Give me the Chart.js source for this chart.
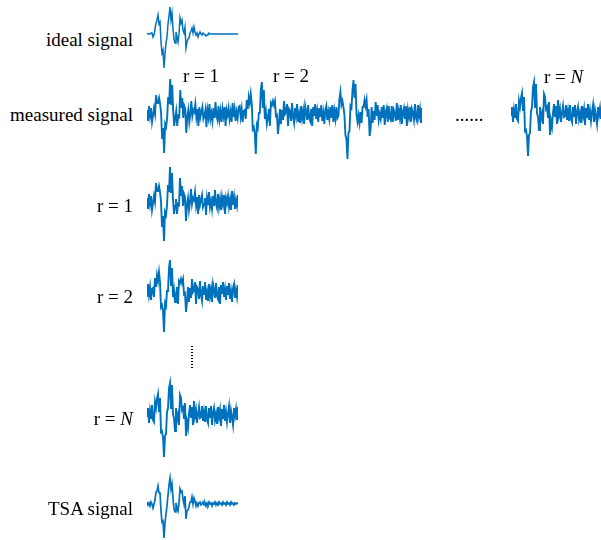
<!DOCTYPE html>
<html>
<head>
<meta charset="utf-8">
<script src="https://cdn.jsdelivr.net/npm/chart.js@4"></script>
<style>
  body { margin: 0; background: #fff; }
  #fig { position: relative; width: 601px; height: 540px; overflow: hidden; background: #fff; }
  #fig canvas { position: absolute; }
  .lbl {
    position: absolute;
    font-family: "Liberation Serif", "Times New Roman", serif;
    font-size: 19px;
    line-height: 19px;
    color: #000;
    white-space: nowrap;
  }
  .right { right: 468px; text-align: right; }
  .vdots {
    position: absolute; left: 191px; top: 346px; width: 2px; height: 23px;
    background: repeating-linear-gradient(to bottom, #000 0, #000 1.5px, transparent 1.5px, transparent 3px);
  }
</style>
</head>
<body>
<div id="fig">
  <canvas id="cIdeal" width="91" height="110" style="left:147px; top:-21px"></canvas>
  <canvas id="cMeasured" width="275" height="110" style="left:147px; top:59px"></canvas>
  <canvas id="cMeasuredN" width="91" height="110" style="left:511px; top:59px"></canvas>
  <canvas id="cR1" width="91" height="110" style="left:147px; top:147px"></canvas>
  <canvas id="cR2" width="91" height="110" style="left:147px; top:237px"></canvas>
  <canvas id="cRN" width="91" height="110" style="left:147px; top:360px"></canvas>
  <canvas id="cTSA" width="91" height="110" style="left:147px; top:449px"></canvas>

  <div class="lbl right" style="top:30px">ideal signal</div>
  <div class="lbl right" style="top:105px">measured signal</div>
  <div class="lbl right" style="top:196px">r = 1</div>
  <div class="lbl right" style="top:287px">r = 2</div>
  <div class="lbl right" style="top:409px">r = <i>N</i></div>
  <div class="lbl right" style="top:499px">TSA signal</div>

  <div class="lbl" style="left:183px; top:66px">r = 1</div>
  <div class="lbl" style="left:273px; top:66px">r = 2</div>
  <div class="lbl" style="left:544px; top:67px">r = <i>N</i></div>
  <div class="lbl" style="left:455px; top:105px">......</div>
  <div class="vdots"></div>
</div>
<script>
// amplitudes, one sample per pixel
const idealSignal = [
  1, 0, 0, 0, 1, 1, -3, -1, 5, 11,
  14, 19, 10, 12, -8, -19, -16, -34, -20, -9,
  -3, 10, 18, 27, 14, 21, 5, -5, -9, 2,
  -3, -8, 0, 16, 11, 14, 4, 1, 7, -14,
  -8, -5, -4, 1, 3, 6, 1, 7, 2, -1,
  1, -3, 0, 2, 0, -1, 1, 0, -1, -2,
  -1, 0, 1, 0, 0, 0, 0, 0, 0, 0,
  0, 0, 0, 0, 0, 0, 0, 0, 0, 0,
  0, 0, 0, 0, 0, 0, 0, 0, 0, 0,
  0, 0
];

const measuredR1 = [
  4, -7, 8, -2, 6, -8, -1, 6, 0, 19,
  11, 11, 16, 10, 1, -25, -14, -39, -10, -13,
  -4, 17, 10, 35, 9, 29, 3, -12, -4, 3,
  -12, -2, -3, 24, 6, 16, -4, 8, 5, -19,
  -3, 4, -8, 0, 13, -2, 4, 2, 10, -3,
  5, -12, 7, -3, 2, 7, -5, -2, 4, -13,
  4, -3, 10, -5, 1, -7, 6, -4, 12, -2,
  -6, 8, -5, 3, -8, 5, -2, 7, -12, 4,
  -1, 6, -5, 2, -8, 11, -3, 5, -7, 2,
  -4, 7
];

const measuredR2 = [
  -5, 8, -3, 5, -8, 3, 4, -5, 14, 5,
  17, 11, 20, 10, -15, -13, -19, -40, -11, -14,
  1, 1, 24, 32, 6, 24, -5, 2, -10, -4,
  5, -12, 11, 9, 13, 9, 13, -2, -1, -20,
  -10, 5, -10, 4, -6, 13, 0, 2, 10, -12,
  5, 3, -7, 11, -3, -9, 6, -2, 10, -8,
  0, -9, 8, -4, 3, -10, 8, 2, -6, 9,
  -4, -7, 5, -12, 7, -2, 10, -5, 3, -8,
  6, -3, 9, -7, 1, -10, 4, 8, -6, 2,
  -5, 7
];

const measuredR3 = [
  6, -4, 9, -8, 3, -5, 7, -4, -2, 15,
  22, 9, 13, 7, -1, -21, -25, -45, -19, -17,
  8, 6, 24, 34, 16, 30, -1, -8, -1, -9,
  2, -9, 7, 7, 14, 8, 14, -3, 5, -22,
  -15, 7, -9, 3, -6, 12, -2, 9, -6, 0,
  -5, 7, -4, 9, -11, 2, 6, -8, 8, -4,
  -6, 8, -8, 4, 1, -7, 11, -6, 3, -4,
  9, -10, 2, 6, -5, 8, -12, 4, -3, 7,
  -8, 5, 1, -6, 10, -4, -7, 9, -2, 5,
  -9, 6
];

const measuredRN = [
  -2, 7, -8, 4, -4, 10, -5, -7, 13, 7,
  16, 21, 3, 17, -17, -16, -22, -42, -21, -19,
  3, 7, 27, 32, 6, 30, 1, -3, -16, 7,
  -5, 0, -10, 20, 17, 5, 7, -4, 12, -21,
  -7, -13, 1, 10, -3, 8, -10, 14, -1, 5,
  -8, 1, 8, -3, -2, 9, -6, 3, -7, 9,
  -5, -8, 7, -3, 9, -10, 2, 7, -5, 1,
  -9, 8, -2, 5, -11, 6, -4, 10, -6, 3,
  -7, 2, 9, -8, 4, -3, -10, 7, -1, 6,
  -5, 8
];

const tsaSignal = [
  2, -1, 1, -2, 2, 0, -4, 0, 4, 12,
  13, 18, 11, 11, -7, -18, -17, -34, -19, -10,
  -2, 9, 19, 26, 15, 20, 6, -5, -8, 1,
  -4, -7, 1, 15, 12, 13, 5, 0, 8, -15,
  -7, -6, -3, 2, 2, 7, 0, 6, 3, -2,
  1, -2, 1, 2, -1, 0, 2, -1, 1, -2,
  1, -1, 2, 0, 1, -2, 1, 0, 2, -1,
  1, -1, 2, 0, 1, -1, 2, 0, 1, -1,
  2, 0, 1, -1, 2, 0, 1, -1, 1, 0,
  1, 0
];

const lineColor = "#0072BD";

const makeTrace = (id, values, width) => {
  const points = values.map((v, i) => ({ x: i, y: v }));
  return new Chart(document.getElementById(id), {
    type: "line",
    data: {
      datasets: [
        {
          data: points,
          borderColor: lineColor,
          borderWidth: width,
          pointRadius: 0,
          tension: 0,
          fill: false,
        },
      ],
    },
    options: {
      responsive: false,
      animation: false,
      devicePixelRatio: 1,
      events: [],
      layout: { padding: 0 },
      scales: {
        x: { type: "linear", display: false, min: 0, max: values.length - 1 },
        y: { display: false, min: -55, max: 55 },
      },
      plugins: {
        legend: { display: false },
        tooltip: { enabled: false },
      },
    },
  });
};

makeTrace("cIdeal", idealSignal, 1.5);
makeTrace("cMeasured", [...measuredR1, ...measuredR2.slice(1), ...measuredR3.slice(1)], 1.9);
makeTrace("cMeasuredN", measuredRN, 1.9);
makeTrace("cR1", measuredR1, 1.9);
makeTrace("cR2", measuredR2, 1.9);
makeTrace("cRN", measuredRN, 1.9);
makeTrace("cTSA", tsaSignal, 1.7);
</script>
</body>
</html>
